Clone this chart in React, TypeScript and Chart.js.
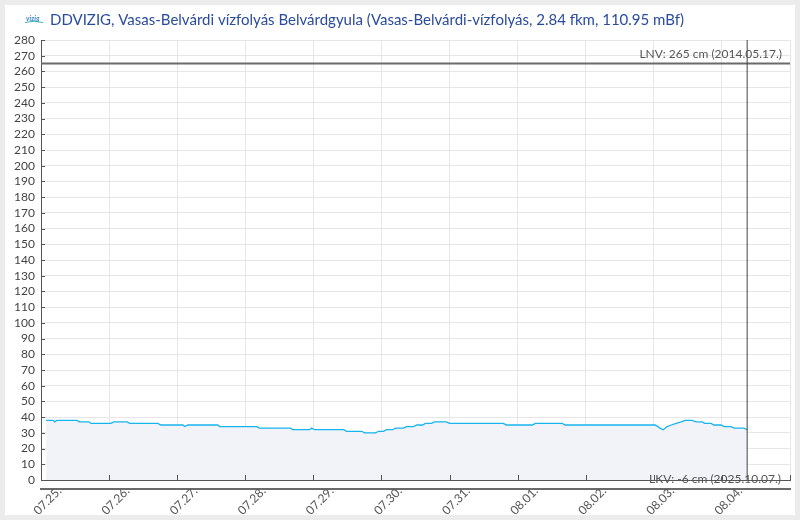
import React, { useEffect, useRef } from "react";
import { Chart, registerables } from "chart.js";

Chart.register(...registerables);

const TITLE = "DDVIZIG, Vasas-Belvárdi vízfolyás Belvárdgyula (Vasas-Belvárdi-vízfolyás, 2.84 fkm, 110.95 mBf)";
const DAY_LABELS = ["07.25.", "07.26.", "07.27.", "07.28.", "07.29.", "07.30.", "07.31.", "08.01.", "08.02.", "08.03.", "08.04."];
const DAY_GRID = [0, 24, 48, 72, 96, 120, 144, 168, 192, 216, 240, 264];
const X_MIN = 0;
const X_MAX = 264;
const Y_MIN = 0;
const Y_MAX = 280;
const Y_STEP = 10;

// hours since 07.25. 00:00
const HOURS = [1.8, 4.2, 4.9, 5.6, 12.7, 13.4, 16.9, 17.6, 24.6, 25.7, 30.3, 31.3, 41.2, 42.2, 50.0, 50.7, 51.7, 62.3, 63.0, 76.0, 77.0, 88.0, 88.7, 94.7, 95.4, 96.4, 106.7, 107.7, 113.0, 114.0, 117.9, 119.0, 120.7, 121.8, 123.9, 125.0, 127.8, 128.8, 131.3, 132.4, 134.5, 135.5, 137.6, 138.7, 142.9, 144.0, 163.0, 164.0, 173.2, 174.2, 183.7, 184.8, 216.5, 218.2, 219.3, 220.7, 222.1, 223.9, 225.6, 227.0, 229.5, 230.9, 233.0, 234.0, 236.2, 237.2, 239.7, 240.8, 243.2, 244.3, 247.8, 248.9];
const LEVELS = [38, 38, 37, 38, 38, 37, 37, 36, 36, 37, 37, 36, 36, 35, 35, 34, 35, 35, 34, 34, 33, 33, 32, 32, 33, 32, 32, 31, 31, 30, 30, 31, 31, 32, 32, 33, 33, 34, 34, 35, 35, 36, 36, 37, 37, 36, 36, 35, 35, 36, 36, 35, 35, 33, 32, 34, 35, 36, 37, 38, 38, 37, 37, 36, 36, 35, 35, 34, 34, 33, 33, 32];

const NOW_HOUR = 248.9;
const LNV_VALUE = 265;
const LNV_TEXT = "LNV: 265 cm (2014.05.17.)";
const LKV_VALUE = -6;
const LKV_TEXT = "LKV: -6 cm (2025.10.07.)";
const LABEL_OFFSET_HOURS = 6.5;

const FONT = "Lato, 'Open Sans', sans-serif";

const decorPlugin = {
  id: "decor",
  afterDraw(chart: any) {
    const ctx = chart.ctx;
    const x = chart.scales.x;
    const y = chart.scales.y;
    const area = chart.chartArea;
    ctx.save();
    // inside tick marks
    ctx.strokeStyle = "#555";
    ctx.lineWidth = 1;
    ctx.beginPath();
    for (const v of DAY_GRID) {
      const px = Math.round(x.getPixelForValue(v)) + 0.5;
      ctx.moveTo(px, area.bottom - 5);
      ctx.lineTo(px, area.bottom);
    }
    for (let v = Y_MIN; v <= Y_MAX; v += Y_STEP) {
      const py = Math.round(y.getPixelForValue(v)) + 0.5;
      ctx.moveTo(area.left, py);
      ctx.lineTo(area.left + 4, py);
    }
    ctx.stroke();

    // LNV / LKV texts
    ctx.fillStyle = "#555";
    ctx.font = `12px ${FONT}`;
    ctx.textAlign = "right";
    ctx.textBaseline = "alphabetic";
    ctx.fillText(LNV_TEXT, area.right - 8, y.getPixelForValue(LNV_VALUE) - 6);
    ctx.fillStyle = "#555";
    ctx.font = `12px ${FONT}`;
    ctx.fillText(LKV_TEXT, area.right - 9, Math.min(y.getPixelForValue(LKV_VALUE), y.getPixelForValue(Y_MIN)) + 2.5);

    // title + logo
    ctx.textAlign = "left";
    ctx.fillStyle = "#2a4c9c";
    ctx.font = `15px ${FONT}`;
    ctx.fillText(TITLE, 45, 20);
    ctx.fillStyle = "#3f88c8";
    ctx.font = `italic bold 7px ${FONT}`;
    ctx.fillText("vizig", 21, 16);
    ctx.strokeStyle = "#3bb5b0";
    ctx.beginPath();
    ctx.moveTo(20, 17.5);
    ctx.quadraticCurveTo(29, 15, 38, 17.5);
    ctx.stroke();
    ctx.restore();
  },
};

export default function App() {
  const ref = useRef<HTMLCanvasElement | null>(null);
  useEffect(() => {
    if (!ref.current) return;
    const chart = new Chart(ref.current, {
      type: "line",
      data: {
        datasets: [
          {
            label: "Vízállás",
            data: HOURS.map((h, i) => ({ x: h, y: LEVELS[i] })),
            borderColor: "#17b4ee",
            backgroundColor: "#f2f3f8",
            borderWidth: 1.3,
            fill: "origin",
            pointRadius: 0,
            tension: 0,
            order: 3,
          },
          {
            label: "LNV",
            data: [
              { x: X_MIN, y: LNV_VALUE },
              { x: X_MAX, y: LNV_VALUE },
            ],
            borderColor: "#6a6a6a",
            borderWidth: 2,
            pointRadius: 0,
            fill: false,
            order: 2,
          },
          {
            label: "now",
            data: [
              { x: NOW_HOUR, y: Y_MIN },
              { x: NOW_HOUR, y: Y_MAX },
            ],
            borderColor: "#444",
            borderWidth: 1,
            pointRadius: 0,
            fill: false,
            order: 1,
          },
        ],
      },
      options: {
        animation: false,
        responsive: false,
        maintainAspectRatio: false,
        layout: { padding: { top: 35, right: 5, left: 0, bottom: 0 } },
        plugins: {
          legend: { display: false },
          tooltip: { enabled: false },
          title: { display: false },
        },
        scales: {
          x: {
            type: "linear",
            position: "bottom",
            weight: 0,
            min: X_MIN,
            max: X_MAX,
            afterBuildTicks: (s: any) => {
              s.ticks = DAY_GRID.map((v) => ({ value: v }));
            },
            afterFit: (s: any) => {
              s.height = 9;
            },
            ticks: { display: false },
            grid: { color: "#e6e6e6", drawTicks: false, lineWidth: 1 },
            border: { color: "#555", width: 1 },
          },
          x2: {
            type: "linear",
            position: "bottom",
            weight: 1,
            min: X_MIN,
            max: X_MAX,
            afterBuildTicks: (s: any) => {
              s.ticks = DAY_LABELS.map((_, i) => ({ value: DAY_GRID[i] + LABEL_OFFSET_HOURS }));
            },
            afterFit: (s: any) => {
              s.height = 26;
            },
            ticks: {
              autoSkip: false,
              minRotation: 45,
              maxRotation: 45,
              padding: -5,
              color: "#555",
              font: { family: FONT, size: 12 },
              callback: (_v: any, i: number) => DAY_LABELS[i],
            },
            grid: { display: true, drawOnChartArea: false, drawTicks: false, color: "rgba(0,0,0,0)" },
            border: { color: "#6a6a6a", width: 2 },
          },
          y: {
            type: "linear",
            min: Y_MIN,
            max: Y_MAX,
            afterBuildTicks: (s: any) => {
              const t = [];
              for (let v = Y_MIN; v <= Y_MAX; v += Y_STEP) t.push({ value: v });
              s.ticks = t;
            },
            afterFit: (s: any) => {
              s.width = 36;
            },
            ticks: {
              autoSkip: false,
              stepSize: Y_STEP,
              padding: 6,
              color: "#444",
              font: { family: FONT, size: 12 },
            },
            grid: { color: "#e6e6e6", drawTicks: false },
            border: { color: "#555", width: 1 },
          },
        },
      },
      plugins: [decorPlugin],
    });
    return () => chart.destroy();
  }, []);

  return (
    <div style={{ position: "fixed", inset: 0, background: "#ececec" }}>
      <div style={{ position: "absolute", left: 5, top: 5, width: 790, height: 510, background: "#fff" }}>
        <canvas ref={ref} width={790} height={510} style={{ width: 790, height: 510, display: "block" }} />
      </div>
    </div>
  );
}
